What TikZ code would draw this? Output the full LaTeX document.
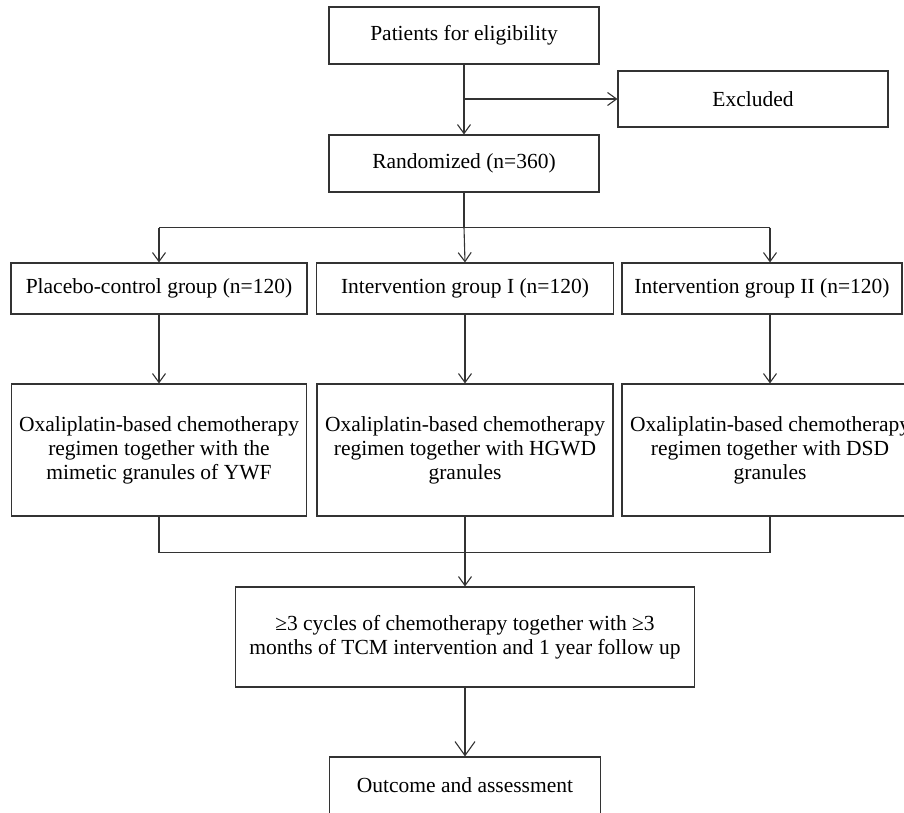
\documentclass[tikz,border=0pt]{standalone}
\usepackage{fontspec}
\setmainfont{Liberation Serif}
\usepackage{tikz}
\usetikzlibrary{arrows.meta,positioning,calc}

\tikzset{
	box/.style={draw=black!80, line width=1.1pt, align=center, inner sep=2pt},
	link/.style={draw=black!80, line width=1.1pt},
	arr/.style={link, -{Straight Barb[length=9pt,width=13pt]}},
	bigarr/.style={link, -{Straight Barb[length=14pt,width=20pt]}},
}

\begin{document}
\begin{tikzpicture}[x=1pt,y=-1pt,font=\fontsize{21.5}{24}\selectfont]
		\useasboundingbox (0,0) rectangle (904,812);

		% Enrolment
		\node[box, minimum width=270pt, minimum height=57pt] (elig) at (464,35.5) {Patients for eligibility};
		\node[box, minimum width=270pt, minimum height=56pt] (excl) at (753,99) {Excluded};
		\node[box, minimum width=270pt, minimum height=57pt] (rand) at (464,163.5) {Randomized (n=360)};

		% Groups
		\node[box, minimum width=296pt, minimum height=51pt] (plac) at (159,288.5) {Placebo-control group (n=120)};
		\node[box, minimum width=297pt, minimum height=51pt] (int1) at (465,288.5) {Intervention group I (n=120)};
		\node[box, minimum width=280pt, minimum height=51pt] (int2) at (762,288.5) {Intervention group II (n=120)};

		% Regimens
		\node[box, minimum width=295pt, minimum height=132pt] (reg1) at (159,450) {Oxaliplatin-based chemotherapy\\regimen together with the\\mimetic granules of YWF};
		\node[box, minimum width=296pt, minimum height=132pt] (reg2) at (465,450) {Oxaliplatin-based chemotherapy\\regimen together with HGWD\\granules};
		\node[box, minimum width=296pt, minimum height=132pt] (reg3) at (770,450) {Oxaliplatin-based chemotherapy\\regimen together with DSD\\granules};

		% Follow up and outcome
		\node[box, minimum width=459pt, minimum height=100pt] (follow) at (465,637) {≥3 cycles of chemotherapy together with ≥3\\months of TCM intervention and 1 year follow up};
		\node[box, minimum width=271pt, minimum height=57pt] (outc) at (465,785.5) {Outcome and assessment};

		% Connectors
		\draw[arr] (elig) -- (rand);
		\coordinate (ex) at (elig.south |- excl.west);
		\draw[arr] (ex) -- (excl.west);

		\coordinate (split) at ($(rand.south)+(0,35)$);
		\draw[link] (rand.south) -- (split);
		\draw[link] (plac.north |- split) -- (reg3.north |- split);
		\draw[arr] (plac.north |- split) -- (plac.north);
		\draw[arr] (split) -- (int1.north);
		\draw[arr] (reg3.north |- split) -- (reg3.north |- int2.north);

		\draw[arr] (plac) -- (reg1);
		\draw[arr] (int1) -- (reg2);
		\draw[arr] (reg3.north |- int2.south) -- (reg3.north);

		\coordinate (merge) at ($(reg2.south)+(0,36)$);
		\draw[link] (reg1.south) -- (reg1.south |- merge) -- (reg3.south |- merge) -- (reg3.south);
		\draw[link] (reg2.south) -- (merge);
		\draw[arr] (merge) -- (follow);
		\draw[bigarr] (follow) -- (outc);
	\end{tikzpicture}
\end{document}
